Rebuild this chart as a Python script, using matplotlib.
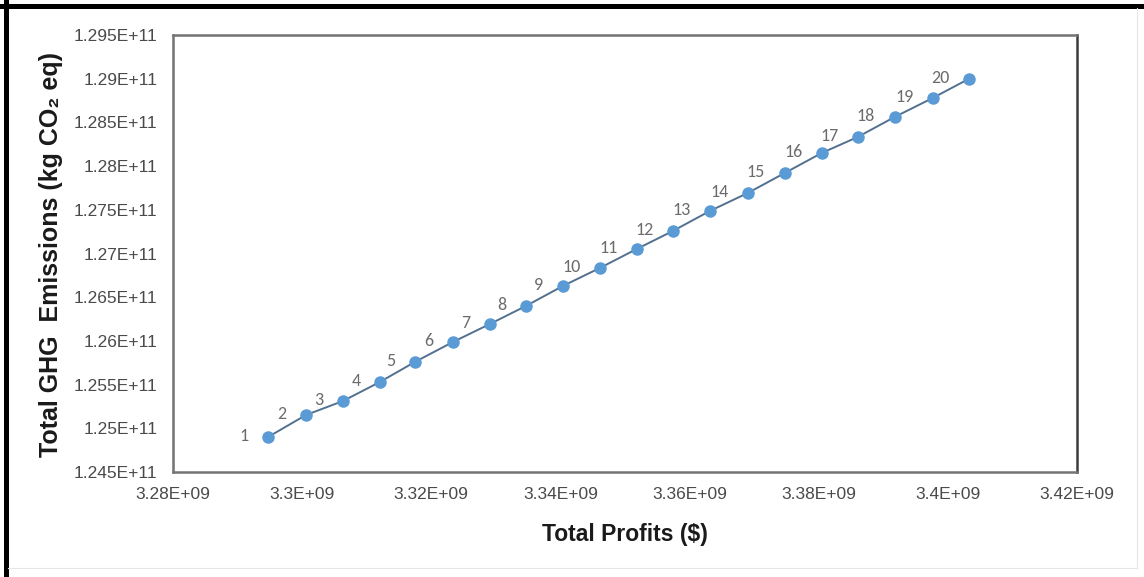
import matplotlib
matplotlib.use("Agg")
import matplotlib.pyplot as plt
from matplotlib.lines import Line2D

# Pareto points: total profits ($) vs total GHG emissions (kg CO2 eq)
point_ids = list(range(1, 21))
profits = [3.29471e9, 3.30059e9, 3.30632e9, 3.31204e9, 3.31746e9,
           3.32334e9, 3.32907e9, 3.33464e9, 3.34037e9, 3.34610e9,
           3.35183e9, 3.35740e9, 3.36313e9, 3.36901e9, 3.37474e9,
           3.38046e9, 3.38604e9, 3.39176e9, 3.39765e9, 3.40322e9]
emissions = [1.24900e11, 1.25152e11, 1.25312e11, 1.25530e11, 1.25759e11,
             1.25987e11, 1.26193e11, 1.26399e11, 1.26628e11, 1.26834e11,
             1.27052e11, 1.27257e11, 1.27486e11, 1.27692e11, 1.27921e11,
             1.28150e11, 1.28333e11, 1.28562e11, 1.28779e11, 1.28997e11]

x_ticks = [3.28e9, 3.30e9, 3.32e9, 3.34e9, 3.36e9, 3.38e9, 3.40e9, 3.42e9]
x_tick_labels = ["3.28E+09", "3.3E+09", "3.32E+09", "3.34E+09",
                 "3.36E+09", "3.38E+09", "3.4E+09", "3.42E+09"]
y_ticks = [1.245e11, 1.250e11, 1.255e11, 1.260e11, 1.265e11, 1.270e11,
           1.275e11, 1.280e11, 1.285e11, 1.290e11, 1.295e11]
y_tick_labels = ["1.245E+11", "1.25E+11", "1.255E+11", "1.26E+11",
                 "1.265E+11", "1.27E+11", "1.275E+11", "1.28E+11",
                 "1.285E+11", "1.29E+11", "1.295E+11"]

plt.rcParams["font.family"] = ["Liberation Sans", "DejaVu Sans"]

W, H = 1144, 577
fig = plt.figure(figsize=(W / 100, H / 100), dpi=100)
fig.patch.set_facecolor("white")

ax = fig.add_axes([173 / W, 1 - 472 / H, (1077 - 173) / W, (472 - 35) / H])

ax.plot(profits, emissions, color="#52708f", linewidth=1.4, zorder=2)
ax.plot(profits, emissions, linestyle="none", marker="o", markersize=8,
        markerfacecolor="#5b9bd5", markeredgecolor="#5b9bd5", zorder=3)

for pid, px, py in zip(point_ids, profits, emissions):
    ax.annotate(str(pid), (px, py), xytext=(-14, 1), textcoords="offset points",
                ha="right", va="center", fontsize=13, color="#6b6b6b",
                family=["Carlito", "Lato", "DejaVu Sans"])

ax.set_xlim(x_ticks[0], x_ticks[-1])
ax.set_ylim(y_ticks[0], y_ticks[-1])
ax.set_xticks(x_ticks)
ax.set_xticklabels(x_tick_labels)
ax.set_yticks(y_ticks)
ax.set_yticklabels(y_tick_labels)
ax.tick_params(axis="both", length=0, labelsize=12.5, labelcolor="#4a4a4a")
ax.tick_params(axis="x", pad=11)
ax.tick_params(axis="y", pad=11)

for side in ("top", "bottom", "left"):
    ax.spines[side].set_color("#737373")
    ax.spines[side].set_linewidth(1.8)
ax.spines["right"].set_color("#3c3c3c")
ax.spines["right"].set_linewidth(1.8)

fig.text(625 / W, 1 - 535 / H, "Total Profits ($)", ha="center", va="center",
         fontsize=16.5, fontweight="bold", color="#1a1a1a")
fig.text(51 / W, 1 - 254 / H, "Total GHG  Emissions (kg CO\u2082 eq)",
         ha="center", va="center", rotation=90, fontsize=18,
         fontweight="bold", color="#1a1a1a")

# outer chart frame
fig.add_artist(Line2D([0, 1], [1 - 5.5 / H, 1 - 5.5 / H],
                      transform=fig.transFigure, color="black", linewidth=3.6))
fig.add_artist(Line2D([5.5 / W, 5.5 / W], [0, 1],
                      transform=fig.transFigure, color="black", linewidth=3.6))
fig.add_artist(Line2D([1137 / W, 1137 / W], [1 - 568 / H, 1 - 8 / H],
                      transform=fig.transFigure, color="#e6e6e6", linewidth=0.8))
fig.add_artist(Line2D([8 / W, 1137 / W], [1 - 568 / H, 1 - 568 / H],
                      transform=fig.transFigure, color="#e6e6e6", linewidth=0.8))

fig.savefig("out.png", dpi=100, facecolor="white")
